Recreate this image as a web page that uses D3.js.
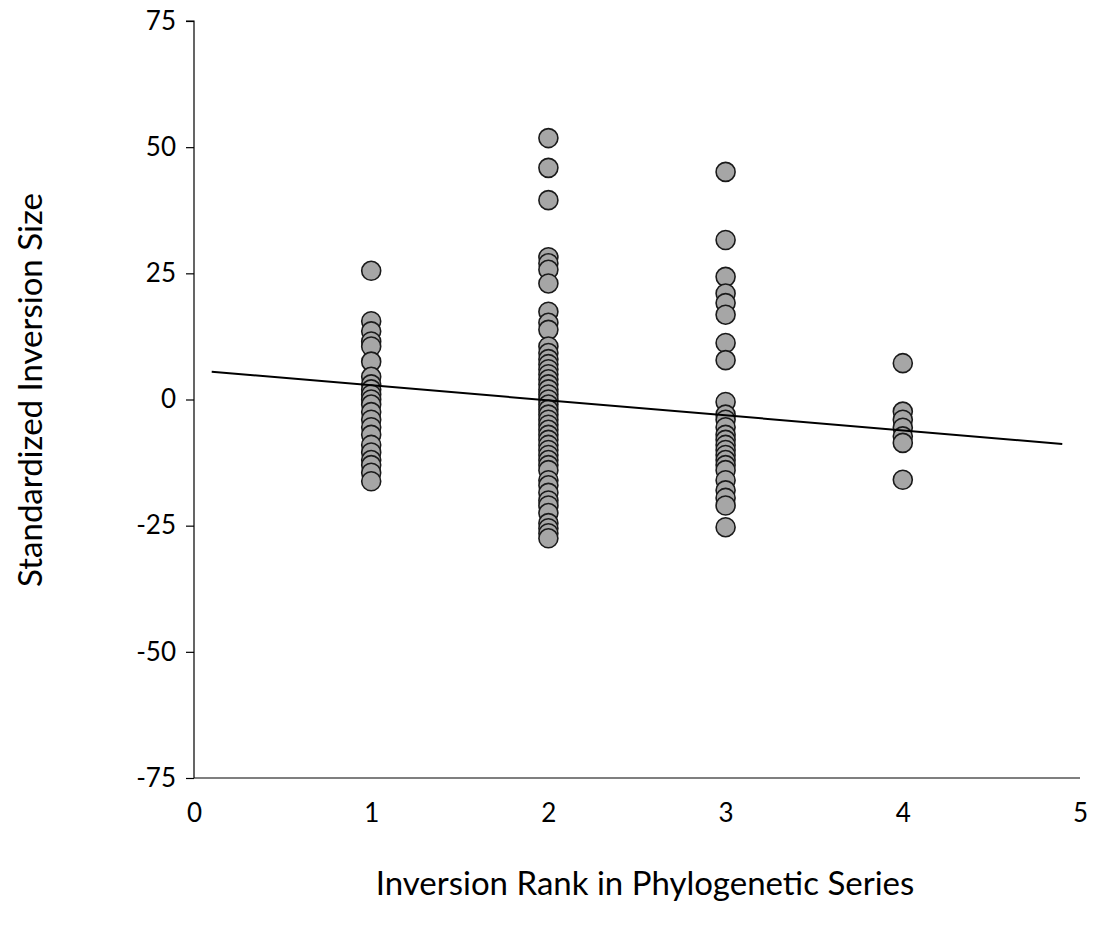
<!DOCTYPE html>
<html lang="en">
<head>
  <meta charset="UTF-8">
  <title>Inversion Size by Rank</title>
  <style>
    body { margin: 0; background: #fff; }
    svg { display: block; font-family: Lato, "Open Sans", sans-serif; }
    .dot { fill: #a6a6a6; stroke: #1a1a1a; stroke-width: 1.6px; }
    .axis path, .axis line { stroke: #000; stroke-width: 1.2px; }
  </style>
</head>
<body>
  <svg id="chart" width="1093" height="932"></svg>
  <script src="https://d3js.org/d3.v7.min.js"></script>
  <script>
    // values, one list per rank
    const rank1 = [25.5, 15.5, 13.5, 11.5, 10.5, 7.5, 4.5, 3, 2, 1, 0, -1, -2.5, -4, -5.5, -7, -9, -10.5, -12, -13, -14.5, -16.2];
    const rank2 = [51.8, 45.9, 39.5, 28.2, 27, 25.7, 23, 17.4, 15.2, 13.8, 10.5, 9.2, 8, 7, 6, 5, 4, 3, 2, 1, 0, -1, -2, -3,
                   -4, -5, -6, -7, -8, -9, -10, -11, -12, -13, -14, -16, -17, -18.5, -20, -21, -22.5, -24.5, -25.5, -26.5, -27.5];
    const rank3 = [45.1, 31.6, 24.3, 21, 19.1, 16.8, 11.2, 7.8, -0.5, -3, -4, -5.5, -7, -8, -9, -10, -11, -12, -13, -14,
                   -16, -18, -19.5, -21, -25.3];
    const rank4 = [7.2, -2.4, -4, -5.6, -7.3, -8.6, -15.9];
    const ranks = [1, 2, 3, 4];
    const series = [rank1, rank2, rank3, rank4];

    // linear trend line
    const trendX = [0.1, 4.9];
    const trendIntercept = 5.8;
    const trendSlope = -2.98;

    const xTicks = [0, 1, 2, 3, 4, 5];
    const yTicks = [-75, -50, -25, 0, 25, 50, 75];

    const svg = d3.select('#chart');
    const x = d3.scaleLinear().domain([0, 5]).range([194, 1080]);
    const y = d3.scaleLinear().domain([-75, 75]).range([778, 21]);
    const fmt = d => String(d); // plain hyphen minus, no decimals

    const data = [];
    series.forEach((vals, i) => vals.forEach(v => data.push({ rank: ranks[i], value: v })));

    // y axis
    svg.append('g')
      .attr('class', 'axis')
      .attr('transform', `translate(${x(0)},0)`)
      .call(d3.axisLeft(y).tickValues(yTicks).tickFormat(fmt).tickSize(8).tickPadding(10))
      .call(g => g.select('.domain').attr('d', `M-8,${y(75)}H0V${y(-75)}`))
      .call(g => g.selectAll('text').style('font-size', '26px').style('font-family', 'Lato, "Open Sans", sans-serif').attr('fill', '#000'));

    // x axis (no tick marks)
    svg.append('g')
      .attr('class', 'axis')
      .attr('transform', `translate(0,${y(-75)})`)
      .call(d3.axisBottom(x).tickValues(xTicks).tickFormat(fmt).tickSize(0).tickPadding(32))
      .call(g => g.select('.domain').attr('d', `M${x(0)},0H${x(5)}`))
      .call(g => g.selectAll('text').style('font-size', '26px').style('font-family', 'Lato, "Open Sans", sans-serif').attr('fill', '#000').attr('dy', '0.45em'));

    // points
    svg.append('g').selectAll('circle')
      .data(data)
      .enter().append('circle')
      .attr('class', 'dot')
      .attr('cx', d => x(d.rank))
      .attr('cy', d => y(d.value))
      .attr('r', 9.5);

    // trend line
    svg.append('line')
      .attr('x1', x(trendX[0]))
      .attr('y1', y(trendIntercept + trendSlope * trendX[0]))
      .attr('x2', x(trendX[1]))
      .attr('y2', y(trendIntercept + trendSlope * trendX[1]))
      .attr('stroke', '#000')
      .attr('stroke-width', 2);

    // axis titles
    svg.append('text')
      .attr('x', 645)
      .attr('y', 895)
      .attr('text-anchor', 'middle')
      .style('font-size', '33px')
      .text('Inversion Rank in Phylogenetic Series');

    svg.append('text')
      .attr('transform', 'translate(42,390) rotate(-90)')
      .attr('text-anchor', 'middle')
      .style('font-size', '33px')
      .text('Standardized Inversion Size');
  </script>
</body>
</html>
